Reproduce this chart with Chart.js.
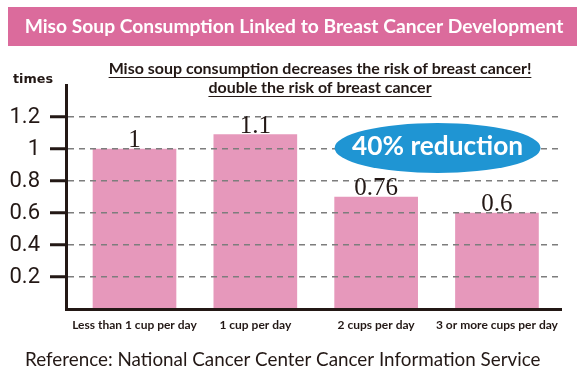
<!DOCTYPE html>
<html><head><meta charset="utf-8">
<script src="https://cdn.jsdelivr.net/npm/chart.js@4"></script>
<style>html,body{margin:0;padding:0;background:#fff;}#wrap{width:586px;height:387px;}</style>
</head><body><div id="wrap"><canvas id="c" width="586" height="387"></canvas></div>
<script>
// ---- data ----
const categories = ['Less than 1 cup per day', '1 cup per day', '2 cups per day', '3 or more cups per day'];
const riskValues = [1, 1.09, 0.70, 0.60];          // drawn bar heights
const valueLabels = ['1', '1.1', '0.76', '0.6'];   // printed numbers
const yTicks = [0.2, 0.4, 0.6, 0.8, 1, 1.2];
const titleText = 'Miso Soup Consumption Linked to Breast Cancer Development';
const subtitleLines = ['Miso soup consumption decreases the risk of breast cancer!', 'double the risk of breast cancer'];
const unitLabel = 'times';
const calloutText = '40% reduction';
const sourceText = 'Reference: National Cancer Center Cancer Information Service';

// ---- styles ----
const ink = '#231815';
const pink = '#E698BB';
const titlePink = '#DB6B9C';
const blue = '#1F95D3';
const sans = 'Lato, "Noto Sans", sans-serif';

function fitFont(ctx, text, weight, family, width) {
  ctx.font = weight + ' 20px ' + family;
  const s = 20 * width / ctx.measureText(text).width;
  ctx.font = weight + ' ' + s.toFixed(2) + 'px ' + family;
}

const decor = {
  id: 'decor',
  beforeDraw(chart) {
    const ctx = chart.ctx;
    ctx.save();
    ctx.fillStyle = '#fff';
    ctx.fillRect(0, 0, chart.width, chart.height);
    // title bar
    ctx.fillStyle = titlePink;
    ctx.fillRect(8, 7, 569, 39);
    ctx.fillStyle = '#fff';
    fitFont(ctx, titleText, 'bold', sans, 539);
    ctx.textAlign = 'center';
    ctx.textBaseline = 'middle';
    ctx.fillText(titleText, 294, 27);
    // unit label
    ctx.fillStyle = ink;
    fitFont(ctx, unitLabel, 'bold', '"DejaVu Sans", sans-serif', 40);
    ctx.textAlign = 'left';
    ctx.fillText(unitLabel, 13, 80);
    // subtitle with underline
    fitFont(ctx, subtitleLines[0], 'bold', sans, 423);
    ctx.textAlign = 'center';
    ctx.textBaseline = 'alphabetic';
    const ys = [74, 93];
    subtitleLines.forEach((t, i) => {
      ctx.fillText(t, 320, ys[i]);
      const w = ctx.measureText(t).width;
      ctx.fillRect(320 - w / 2, ys[i] + 3, w, 1);
    });
    // source
    fitFont(ctx, sourceText, 'normal', sans, 516);
    ctx.textAlign = 'left';
    ctx.textBaseline = 'middle';
    ctx.fillText(sourceText, 25, 360);
    ctx.restore();
  },
  afterDraw(chart) {
    const ctx = chart.ctx;
    const xs = chart.scales.x, yScale = chart.scales.y;
    const meta = chart.getDatasetMeta(0);
    ctx.save();
    // value labels
    ctx.fillStyle = ink;
    ctx.font = '25px "Liberation Serif", "Times New Roman", serif';
    ctx.textAlign = 'center';
    ctx.textBaseline = 'alphabetic';
    meta.data.forEach((bar, i) => {
      ctx.fillText(valueLabels[i], bar.x, bar.y - 2);
    });
    // callout ellipse between third and fourth bars
    const cx = xs.getPixelForValue(2.5);
    const cy = yScale.getPixelForValue(1);
    ctx.fillStyle = blue;
    ctx.beginPath();
    ctx.ellipse(cx + 1, cy - 1, 103, 25, 0, 0, Math.PI * 2);
    ctx.fill();
    ctx.fillStyle = '#fff';
    fitFont(ctx, calloutText, 'bold', sans, 171);
    ctx.textBaseline = 'middle';
    ctx.fillText(calloutText, cx + 1, cy - 2);
    ctx.restore();
  }
};

new Chart(document.getElementById('c'), {
  type: 'bar',
  data: {
    datasets: [{
      data: riskValues.map((v, i) => ({ x: i, y: v })),
      backgroundColor: pink,
      borderWidth: 0,
      barThickness: 83
    }]
  },
  options: {
    responsive: false,
    animation: false,
    devicePixelRatio: 1,
    layout: { padding: { left: 0, right: 25, top: 85, bottom: 48 } },
    plugins: { legend: { display: false }, tooltip: { enabled: false }, title: { display: false } },
    scales: {
      x: {
        type: 'linear',
        offset: false,
        min: -0.567, max: 3.53,
        afterBuildTicks: a => { a.ticks = categories.map((c, i) => ({ value: i })); },
        afterFit: a => { a.height = 30; },
        ticks: {
          callback: v => categories[v],
          font: { family: sans, size: 12, weight: 'bold' },
          color: ink, padding: 9, maxRotation: 0, autoSkip: false
        },
        grid: { display: false, drawTicks: false, offset: false },
        border: { display: true, color: ink, width: 3, z: 2 }
      },
      y: {
        min: 0, max: 1.4,
        afterBuildTicks: a => { a.ticks = yTicks.map(v => ({ value: v })); },
        afterFit: a => { a.width = 66; },
        ticks: {
          callback: v => String(v),
          font: { family: 'Roboto', size: 22 },
          color: ink, padding: 10
        },
        grid: { z: 1, color: '#7d7d7d', lineWidth: 1.5, tickLength: 16, tickWidth: 3, tickColor: ink },
        border: { display: true, color: ink, width: 3, dash: [6, 5], z: 2 }
      }
    }
  },
  plugins: [decor]
});
</script>
</body></html>
